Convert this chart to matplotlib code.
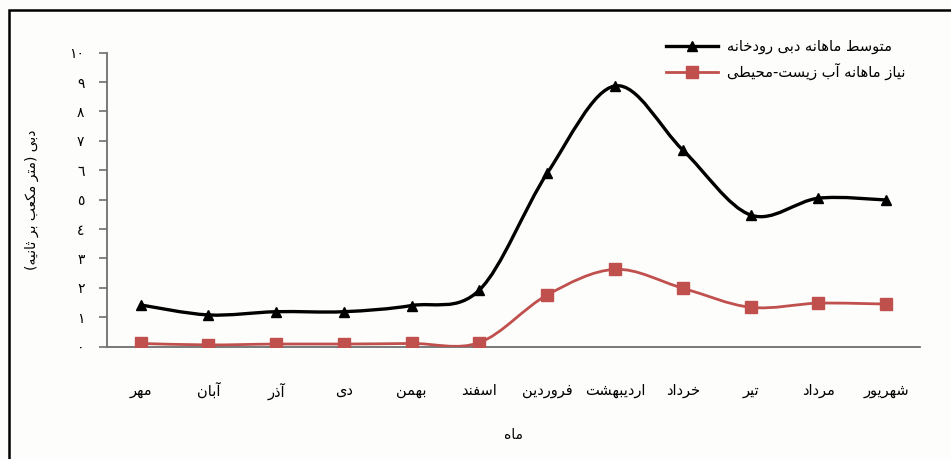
import numpy as np
import matplotlib
matplotlib.use('Agg')
import matplotlib.pyplot as plt
from matplotlib.path import Path
from matplotlib.patches import PathPatch, Rectangle
from matplotlib.lines import Line2D

# data (monthly, Persian calendar)
months = ['مهر', 'آبان', 'آذر', 'دی', 'بهمن', 'اسفند',
          'فروردین', 'اردیبهشت', 'خرداد', 'تیر', 'مرداد', 'شهریور']
river_flow = [1.42, 1.08, 1.19, 1.19, 1.40, 1.93, 5.90, 8.87, 6.69, 4.48, 5.05, 4.99]
env_demand = [0.11, 0.06, 0.09, 0.09, 0.11, 0.14, 1.76, 2.63, 1.99, 1.34, 1.48, 1.45]
y_ticks = list(range(11))

label_flow = 'متوسط ماهانه دبی رودخانه'
label_demand = 'نیاز ماهانه آب زیست-محیطی'
x_title = 'ماه'
y_title = 'دبی (متر مکعب بر ثانیه)'

# --- minimal arabic/persian shaping (matplotlib has no text shaping) ---
# forms: isolated, final, initial, medial
FORMS = {
    'ا': ('\uFE8D', '\uFE8E'), 'آ': ('\uFE81', '\uFE82'),
    'د': ('\uFEA9', '\uFEAA'), 'ذ': ('\uFEAB', '\uFEAC'),
    'ر': ('\uFEAD', '\uFEAE'), 'ز': ('\uFEAF', '\uFEB0'),
    'و': ('\uFEED', '\uFEEE'),
    'ب': ('\uFE8F', '\uFE90', '\uFE91', '\uFE92'),
    'ت': ('\uFE95', '\uFE96', '\uFE97', '\uFE98'),
    'ث': ('\uFE99', '\uFE9A', '\uFE9B', '\uFE9C'),
    'ح': ('\uFEA1', '\uFEA2', '\uFEA3', '\uFEA4'),
    'خ': ('\uFEA5', '\uFEA6', '\uFEA7', '\uFEA8'),
    'س': ('\uFEB1', '\uFEB2', '\uFEB3', '\uFEB4'),
    'ش': ('\uFEB5', '\uFEB6', '\uFEB7', '\uFEB8'),
    'ط': ('\uFEC1', '\uFEC2', '\uFEC3', '\uFEC4'),
    'ع': ('\uFEC9', '\uFECA', '\uFECB', '\uFECC'),
    'ف': ('\uFED1', '\uFED2', '\uFED3', '\uFED4'),
    'ک': ('\uFB8E', '\uFB8F', '\uFB90', '\uFB91'),
    'م': ('\uFEE1', '\uFEE2', '\uFEE3', '\uFEE4'),
    'ن': ('\uFEE5', '\uFEE6', '\uFEE7', '\uFEE8'),
    'ه': ('\uFEE9', '\uFEEA', '\uFEEB', '\uFEEC'),
    'ی': ('\uFBFC', '\uFBFD', '\uFBFE', '\uFBFF'),
}
MIRROR = {'(': ')', ')': '('}


def fa(text):
    out = []
    n = len(text)
    for i, c in enumerate(text):
        if c not in FORMS:
            out.append(MIRROR.get(c, c))
            continue
        prev_join = i > 0 and len(FORMS.get(text[i - 1], ())) == 4
        next_join = len(FORMS[c]) == 4 and i + 1 < n and text[i + 1] in FORMS
        f = FORMS[c]
        if prev_join and next_join:
            out.append(f[3])
        elif prev_join:
            out.append(f[1])
        elif next_join:
            out.append(f[2])
        else:
            out.append(f[0])
    return ''.join(reversed(out))


def fa_num(v):
    return ''.join(chr(0x660 + int(d)) for d in str(v))


def smooth_path(x, y):
    # catmull-rom through the points, like excel's smoothed line
    pts = np.column_stack([x, y]).astype(float)
    n = len(pts)
    verts = [pts[0]]
    codes = [Path.MOVETO]
    for i in range(n - 1):
        p0 = pts[max(i - 1, 0)]
        p1 = pts[i]
        p2 = pts[i + 1]
        p3 = pts[min(i + 2, n - 1)]
        verts += [p1 + (p2 - p0) / 6, p2 - (p3 - p1) / 6, p2]
        codes += [Path.CURVE4] * 3
    return Path(verts, codes)


plt.rcParams['font.family'] = ['DejaVu Sans']

fig = plt.figure(figsize=(9.51, 4.59), dpi=100)
fig.patch.set_facecolor('#fdfdfb')
ax = fig.add_axes([0.1122, 0.2447, 0.8552, 0.6405])
ax.set_facecolor('#fdfdfb')

x = np.arange(len(months))
red = '#c0504d'

ax.add_patch(PathPatch(smooth_path(x, river_flow), facecolor='none',
                       edgecolor='black', lw=2.4, zorder=3))
ax.plot(x, river_flow, ls='none', marker='^', ms=7.5, color='black', zorder=4)

ax.add_patch(PathPatch(smooth_path(x, env_demand), facecolor='none',
                       edgecolor=red, lw=2.0, zorder=3))
ax.plot(x, env_demand, ls='none', marker='s', ms=8, color=red, zorder=4)

ax.set_xlim(-0.5, len(months) - 0.5)
ax.set_ylim(0, 10)

for s in ['top', 'right']:
    ax.spines[s].set_visible(False)
for s in ['left', 'bottom']:
    ax.spines[s].set_color('#6f6f6f')
    ax.spines[s].set_linewidth(1.3)

ax.set_yticks(y_ticks)
ax.set_yticklabels([fa_num(v) for v in y_ticks], fontsize=10)
ax.tick_params(axis='y', direction='out', length=6, width=1.2,
               color='#6f6f6f', pad=10)
ax.set_xticks(x)
ax.set_xticklabels([fa(m) for m in months], fontsize=10.5)
ax.tick_params(axis='x', length=0, pad=26)

ax.set_xlabel(fa(x_title), fontsize=10, labelpad=20)
ax.set_ylabel(fa(y_title), fontsize=10, labelpad=22)

handles = [
    Line2D([], [], color='black', lw=2.4, marker='^', ms=7.5),
    Line2D([], [], color=red, lw=2.0, marker='s', ms=8),
]
ax.legend(handles, [fa(label_flow), fa(label_demand)],
          loc='upper right', bbox_to_anchor=(0.952, 0.915),
          bbox_transform=fig.transFigure, frameon=False, fontsize=10.5,
          handlelength=3.6, handletextpad=0.6, labelspacing=0.6,
          borderpad=0, borderaxespad=0)

# outer frame of the original picture (only top and left edges show)
fig.add_artist(Rectangle((9 / 951, -0.1), 1.2, 1.078, transform=fig.transFigure,
                         fill=False, lw=1.8, ec='black'))

fig.savefig('out.png', dpi=100, facecolor=fig.get_facecolor())
